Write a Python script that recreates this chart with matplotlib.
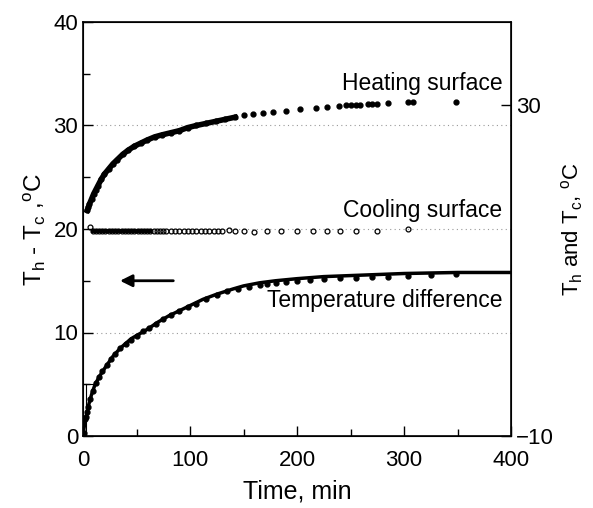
import numpy as np
import matplotlib
matplotlib.use('Agg')
import matplotlib.pyplot as plt
from matplotlib.ticker import MultipleLocator

# temperature difference, fitted curve (left axis)
fit_t = [0, 1, 2, 3, 5, 8, 11, 15, 20, 28, 35, 45, 60, 70, 80, 90, 100, 112, 125, 140, 150, 165,
         180, 200, 225, 250, 275, 300, 350, 400]
fit_v = [0, 0.8, 1.4, 1.9, 2.9, 4.0, 4.9, 5.7, 6.5, 7.7, 8.5, 9.4, 10.3, 11.0, 11.6, 12.1, 12.6,
         13.2, 13.7, 14.2, 14.5, 14.8, 15.0, 15.2, 15.4, 15.5, 15.6, 15.7, 15.8, 15.8]

# temperature difference, measured points (left axis)
diff_t = [1, 2, 3, 4, 5, 7, 9, 12, 15, 18, 22, 26, 30, 35, 40, 45, 50, 56, 62, 68, 75, 82, 90, 98,
          106, 115, 125, 135, 145, 155, 165, 172, 180, 190, 200, 212, 225, 240, 255, 270, 285,
          304, 325, 349]
diff_v = [0.3, 1.6, 1.8, 2.3, 2.8, 3.6, 4.3, 5.1, 5.7, 6.3, 6.9, 7.4, 7.9, 8.5, 8.9, 9.3, 9.7,
          10.1, 10.4, 10.8, 11.3, 11.7, 12.1, 12.5, 12.8, 13.2, 13.6, 14.0, 14.2, 14.4, 14.6, 14.7,
          14.8, 14.9, 15.0, 15.1, 15.2, 15.3, 15.3, 15.4, 15.4, 15.5, 15.6, 15.7]

# heating surface temperature
heat_t = [4, 5, 6, 8, 10, 12, 14, 17, 20, 24, 28, 32, 37, 42, 48, 54, 60, 67, 74, 82, 90, 98, 106,
          115, 124, 133, 142, 150, 159, 168, 178, 190, 203, 218, 228, 239, 246, 250, 255, 259, 266,
          270, 275, 285, 304, 308, 349]
heat_v = [21.8, 22.1, 22.4, 22.9, 23.4, 23.8, 24.2, 24.8, 25.3, 25.8, 26.3, 26.7, 27.2, 27.6,
          28.0, 28.3, 28.6, 28.9, 29.1, 29.3, 29.5, 29.8, 30.0, 30.2, 30.4, 30.6, 30.8, 31.0, 31.1,
          31.2, 31.3, 31.4, 31.6, 31.7, 31.8, 31.9, 32.0, 32.0, 32.0, 32.0, 32.1, 32.1, 32.1, 32.2,
          32.3, 32.3, 32.3]

# cooling surface temperature
cool_t = [7, 9, 12, 15, 18, 21, 24, 27, 30, 33, 36, 39, 42, 45, 48, 51, 54, 57, 60, 63, 66, 69,
          72, 75, 78, 82, 86, 90, 94, 98, 102, 106, 110, 114, 118, 122, 126, 130, 136, 142, 150,
          160, 172, 185, 200, 215, 228, 240, 255, 275, 304]
cool_v = [20.2, 19.8, 19.8, 19.8, 19.8, 19.8, 19.8, 19.8, 19.8, 19.8, 19.8, 19.8, 19.8, 19.8,
          19.8, 19.8, 19.8, 19.8, 19.8, 19.8, 19.8, 19.8, 19.8, 19.8, 19.8, 19.8, 19.8, 19.8, 19.8,
          19.8, 19.8, 19.8, 19.8, 19.8, 19.8, 19.8, 19.8, 19.8, 19.9, 19.8, 19.8, 19.7, 19.8, 19.8,
          19.8, 19.8, 19.8, 19.8, 19.8, 19.8, 20.0]

plt.rcParams['font.family'] = ['Liberation Sans', 'DejaVu Sans']
plt.rcParams['mathtext.fontset'] = 'custom'
plt.rcParams['mathtext.rm'] = 'Liberation Sans'
plt.rcParams['mathtext.it'] = 'Liberation Sans'

fig = plt.figure(figsize=(5.93, 5.08), dpi=100)
ax = fig.add_axes([83/593, 1-436/508, 428/593, 414/508])

# faint dotted grid lines
for g in [10, 20, 30]:
    ax.axhline(g, color='#999999', lw=0.8, ls=(0, (1, 3)), zorder=1)

# temperature difference
ax.plot(fit_t, fit_v, color='black', lw=2.5, zorder=3)
ax.plot(diff_t, diff_v, 'o', color='black', ms=3.5, zorder=3)
# heating surface
ax.plot(heat_t[:27], heat_v[:27], color='black', lw=4, zorder=3)
ax.plot(heat_t, heat_v, 'o', color='black', ms=3.5, zorder=3)
# cooling surface
ax.plot(cool_t[1:20], cool_v[1:20], color='black', lw=3, zorder=3)
ax.plot(cool_t, cool_v, 'o', color='black', mfc='none', ms=3.5, mew=0.9, zorder=3)

# small box near origin
ax.plot([0, 10], [5, 5], color='black', lw=0.8)
ax.plot([3, 3], [0, 5], color='black', lw=0.8)

ax.annotate('', xy=(32, 15), xytext=(87, 15),
            arrowprops=dict(arrowstyle='-|>', color='black', lw=2, mutation_scale=18))

ax.text(392, 34.1, 'Heating surface', ha='right', va='center', fontsize=16.5)
ax.text(392, 21.8, 'Cooling surface', ha='right', va='center', fontsize=16.5)
ax.text(392, 13.1, 'Temperature difference', ha='right', va='center', fontsize=16.5)

ax.set_xlim(0, 400)
ax.set_ylim(0, 40)
ax.xaxis.set_major_locator(MultipleLocator(100))
ax.xaxis.set_minor_locator(MultipleLocator(50))
ax.yaxis.set_major_locator(MultipleLocator(10))
ax.yaxis.set_minor_locator(MultipleLocator(5))
ax.tick_params(which='both', direction='in', labelsize=16, width=1)
ax.tick_params(which='major', length=7)
ax.tick_params(which='minor', length=5)
ax.tick_params(axis='x', which='major', pad=10)
ax.tick_params(axis='y', which='both', right=False)
for s in ax.spines.values():
    s.set_linewidth(1.2)

ax.set_xlabel('Time, min', fontsize=18, labelpad=6)
ax.set_ylabel(r'T$_\mathregular{h}$ - T$_\mathregular{c}$ ,$^\mathregular{o}$C', fontsize=17.5, labelpad=4)

ax2 = ax.twinx()
ax2.set_ylim(-10, 40)
ax2.set_yticks([-10, 30])
ax2.tick_params(direction='in', labelsize=16, length=7, width=1)
ax2.set_ylabel(r'T$_\mathregular{h}$ and T$_\mathregular{c}$, $^\mathregular{o}$C', fontsize=16, labelpad=4)

fig.savefig('out.png', dpi=100)
